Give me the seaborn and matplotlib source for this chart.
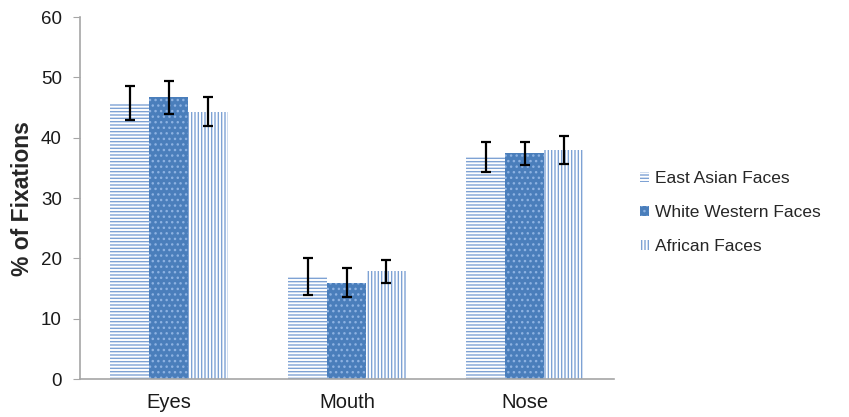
import pandas as pd
import matplotlib
matplotlib.use("Agg")
import matplotlib.pyplot as plt
import seaborn as sns

# values
regions = ["Eyes", "Mouth", "Nose"]
groups = ["East Asian Faces", "White Western Faces", "African Faces"]
east_asian = [45.8, 17.0, 36.8]
white_western = [46.7, 16.0, 37.4]
african = [44.3, 17.9, 38.0]
east_asian_err = [2.8, 3.0, 2.5]
white_western_err = [2.7, 2.4, 1.9]
african_err = [2.4, 1.9, 2.3]

sns.set_style("white")
plt.rcParams['font.family'] = ['Liberation Sans', 'DejaVu Sans']
plt.rcParams['hatch.linewidth'] = 1.0

rows = []
for g, vals, errs in zip(groups, [east_asian, white_western, african],
                         [east_asian_err, white_western_err, african_err]):
    for r, v, e in zip(regions, vals, errs):
        rows.append({'Region': r, 'Group': g, 'Pct': v, 'Err': e})
df = pd.DataFrame(rows)

fig = plt.figure(figsize=(8.49, 4.17), dpi=100)
ax = fig.add_axes([0.094, 0.091, 0.629, 0.868])

sns.barplot(data=df, x='Region', y='Pct', hue='Group', order=regions,
            hue_order=groups, palette=['white', '#4A7EBB', 'white'],
            errorbar=None, width=0.66, legend=False, ax=ax)

styles = [
    dict(face='white', edge='#7EA2D4', hatch='-----'),
    dict(face='#4A7EBB', edge='#8DB2E2', hatch='...'),
    dict(face='white', edge='#7EA2D4', hatch='|||||'),
]
bar_containers = list(ax.containers)
for cont, st, g in zip(bar_containers, styles, groups):
    sub = df[df['Group'] == g].set_index('Region').loc[regions]
    for bar, err in zip(cont.patches, sub['Err']):
        bar.set_facecolor(st['face'])
        bar.set_edgecolor(st['edge'])
        bar.set_hatch(st['hatch'])
        bar.set_linewidth(0)
        ax.errorbar(bar.get_x() + bar.get_width() / 2, bar.get_height(),
                    yerr=err, fmt='none', ecolor='black', elinewidth=1.6,
                    capsize=3.7, capthick=1.6, zorder=5)

ax.set_ylim(0, 60)
ax.set_yticks(range(0, 61, 10))
ax.set_xlim(-0.5, 2.5)
ax.set_xlabel('')
ax.set_ylabel('% of Fixations', fontsize=16.5, fontweight='bold')
ax.yaxis.set_label_coords(-0.086, 0.5)
ax.tick_params(axis='y', labelsize=13.5, length=5, color='#A6A6A6', direction='out',
               left=True, pad=8, labelcolor='#1a1a1a')
ax.tick_params(axis='x', labelsize=14.5, length=0, pad=10, labelcolor='#1a1a1a')
sns.despine(ax=ax)
for side in ['left', 'bottom']:
    ax.spines[side].set_color('#A6A6A6')
    ax.spines[side].set_linewidth(1.2)

handles = [cont.patches[0] for cont in bar_containers]
fig.legend(handles, groups, loc='center left', bbox_to_anchor=(0.7355, 0.49),
           frameon=False, fontsize=12.5, handlelength=0.5, handleheight=0.5,
           handletextpad=0.35, labelspacing=1.1)

fig.savefig('out.png', dpi=100, facecolor='white')
